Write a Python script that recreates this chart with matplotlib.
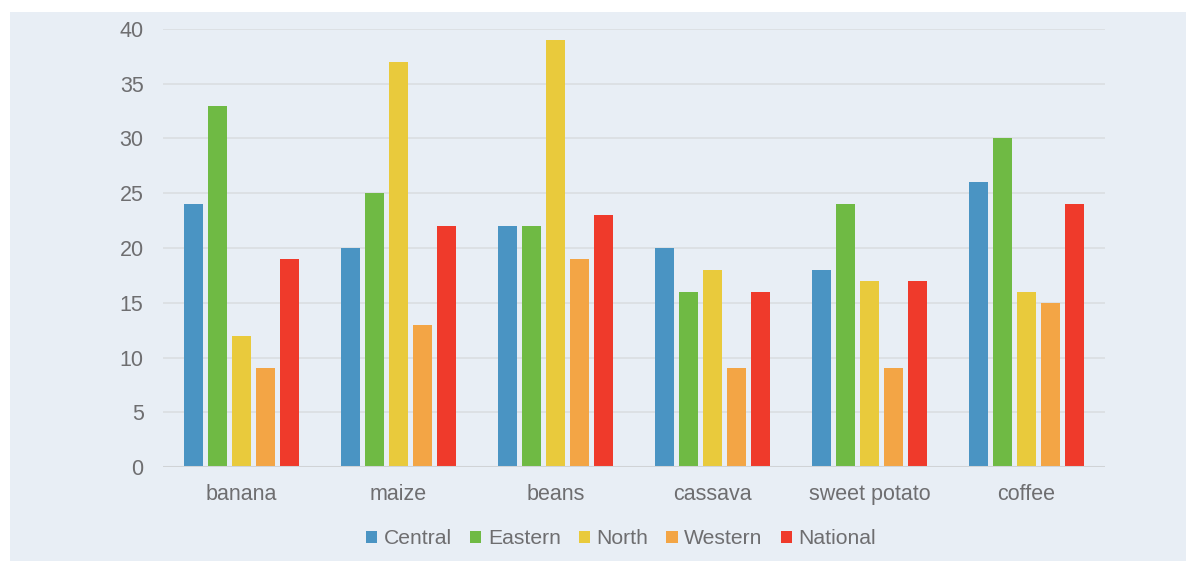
import matplotlib.pyplot as plt
import numpy as np
from matplotlib.patches import Rectangle

crops = ['banana', 'maize', 'beans', 'cassava', 'sweet potato', 'coffee']
regions = ['Central', 'Eastern', 'North', 'Western', 'National']
central = [24, 20, 22, 20, 18, 26]
eastern = [33, 25, 22, 16, 24, 30]
north = [12, 37, 39, 18, 17, 16]
western = [9, 13, 19, 9, 9, 15]
national = [19, 22, 23, 16, 17, 24]
colors = ['#4a94c3', '#6fba44', '#e9ca3c', '#f3a545', '#ef3a2b']

plt.rcParams['font.family'] = ['Liberation Sans', 'DejaVu Sans']
bg = '#e8eef5'
txt = '#6e6e70'

fig = plt.figure(figsize=(11.86, 5.61), dpi=100)
fig.patch.set_facecolor('white')
# light panel behind the whole chart
fig.patches.append(Rectangle((10 / 1186, 0), 1 - 10 / 1186, 1 - 12 / 561,
                             transform=fig.transFigure, facecolor=bg,
                             edgecolor='none', zorder=-10))

ax = fig.add_axes([163 / 1186, 94 / 561, 942 / 1186, 438 / 561])
ax.set_facecolor(bg)

x = np.arange(len(crops))
step = 0.153
width = 0.121
for i, (name, vals) in enumerate(zip(regions, [central, eastern, north, western, national])):
    ax.bar(x + (i - 2) * step, vals, width, color=colors[i], label=name, zorder=3)

ax.set_xlim(-0.5, len(crops) - 0.5)
ax.set_ylim(0, 40)
ax.set_yticks(range(0, 41, 5))
ax.set_xticks(x)
ax.set_xticklabels(crops)
ax.yaxis.grid(True, color='#d9dcdf', linewidth=1.1, zorder=0)
ax.axhline(0, color='#d0d3d6', linewidth=2.2, zorder=4)
for s in ax.spines.values():
    s.set_visible(False)
ax.tick_params(axis='both', length=0, labelsize=15.5, colors=txt)
ax.tick_params(axis='y', pad=14)
ax.tick_params(axis='x', pad=12)

fig.legend(loc='center', bbox_to_anchor=(621 / 1186, 1 - 539 / 561), ncol=5,
           frameon=False, fontsize=15.2, labelcolor=txt, handlelength=0.55,
           handleheight=0.55, handletextpad=0.3, columnspacing=0.85)

fig.savefig('out.png', dpi=100, facecolor=fig.get_facecolor())
